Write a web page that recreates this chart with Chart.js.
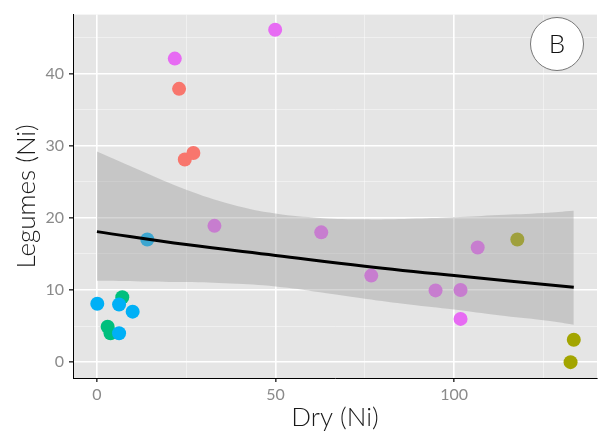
<!DOCTYPE html>
<html>
<head>
<meta charset="utf-8">
<script src="https://cdn.jsdelivr.net/npm/chart.js@4"></script>
<style>
  body { margin: 0; background: #fff; }
  canvas { display: block; }
</style>
</head>
<body>
<canvas id="scatter" width="605" height="437"></canvas>
<script>
// ── Data ──────────────────────────────────────────────────

const redX = [23.0, 24.6, 27.0];
const redY = [37.9, 28.1, 29.0];
const oliveX = [117.7, 133.5, 132.6];
const oliveY = [17.0, 3.1, 0.0];
const greenX = [7.1, 3.0, 3.8];
const greenY = [9.0, 4.9, 4.0];
const blueX = [0.1, 6.2, 10.0, 6.2, 14.1];
const blueY = [8.1, 8.0, 7.0, 4.0, 17.0];
const magentaX = [21.8, 49.9, 101.8, 32.9, 62.8, 76.8, 94.8, 101.8, 106.6];
const magentaY = [42.1, 46.1, 6.0, 18.9, 18.0, 12.0, 9.95, 10.0, 15.9];

// fitted line and its confidence band
const fitX = [0, 25, 50, 75, 100, 133.5];
const fitY = [18.1, 16.3, 14.8, 13.3, 12.0, 10.4];
const bandX = [0, 12.5, 25, 37.5, 50, 62.5, 75, 87.5, 100, 112.5, 125, 133.5];
const bandUpper = [29.2, 26.5, 23.9, 21.9, 20.6, 20.0, 19.8, 19.9, 20.1, 20.4, 20.7, 21.0];
const bandLower = [11.3, 11.2, 11.1, 10.9, 10.5, 9.7, 8.8, 8.0, 7.3, 6.5, 5.8, 5.2];

const xTicks = [0, 25, 50, 75, 100, 125];
const xLabels = [0, 50, 100];
const yTicks = [0, 5, 10, 15, 20, 25, 30, 35, 40, 45];
const yLabels = [0, 10, 20, 30, 40];

const panelLabel = 'B';

// ── Helpers ──────────────────────────────────────────────

const pts = (xs, ys) => xs.map((x, i) => ({ x: x, y: ys[i] }));

function pointSet(xs, ys, color, order) {
    return {
        type: 'scatter',
        data: pts(xs, ys),
        backgroundColor: color,
        borderWidth: 0,
        pointRadius: 7,
        pointHoverRadius: 7,
        order: order
    };
}

function gridColor(labels) {
    return ctx => labels.includes(ctx.tick && ctx.tick.value) ? '#ffffff' : 'rgba(255,255,255,0.55)';
}
function gridWidth(labels) {
    return ctx => labels.includes(ctx.tick && ctx.tick.value) ? 1.6 : 0.8;
}
function tickColor(labels) {
    return ctx => labels.includes(ctx.tick && ctx.tick.value) ? '#444' : 'rgba(0,0,0,0)';
}

// ── Plugins ───────────────────────────────────────────────

const panelBackground = {
    id: 'panelBackground',
    beforeDraw(chart) {
        const { ctx, chartArea: a } = chart;
        ctx.save();
        ctx.fillStyle = '#e5e5e5';
        ctx.fillRect(a.left, a.top, a.right - a.left, a.bottom - a.top);
        ctx.restore();
    }
};

const cornerLabel = {
    id: 'cornerLabel',
    afterDraw(chart) {
        const ctx = chart.ctx;
        ctx.save();
        ctx.beginPath();
        ctx.arc(557, 44, 26.5, 0, Math.PI * 2);
        ctx.fillStyle = '#ffffff';
        ctx.fill();
        ctx.lineWidth = 1;
        ctx.strokeStyle = '#777';
        ctx.stroke();
        ctx.fillStyle = '#111';
        ctx.font = '300 26px Lato, "DejaVu Sans", sans-serif';
        ctx.textAlign = 'center';
        ctx.textBaseline = 'middle';
        ctx.fillText(panelLabel, 557, 45);
        ctx.restore();
    }
};

// ── Chart ─────────────────────────────────────────────────

new Chart(document.getElementById('scatter'), {
    type: 'scatter',
    data: {
        datasets: [
            {
                type: 'line',
                data: pts(fitX, fitY),
                borderColor: '#000',
                borderWidth: 3,
                pointRadius: 0,
                tension: 0.4,
                fill: false,
                order: 0
            },
            {
                type: 'line',
                data: pts(bandX, bandUpper),
                borderWidth: 0,
                borderColor: 'rgba(0,0,0,0)',
                backgroundColor: 'rgba(153,153,153,0.4)',
                pointRadius: 0,
                tension: 0.4,
                fill: '+1',
                order: 1
            },
            {
                type: 'line',
                data: pts(bandX, bandLower),
                borderWidth: 0,
                borderColor: 'rgba(0,0,0,0)',
                pointRadius: 0,
                tension: 0.4,
                fill: false,
                order: 1
            },
            pointSet(greenX, greenY, '#00BF7D', 4),
            pointSet(blueX, blueY, '#00B0F6', 3),
            pointSet(redX, redY, '#F8766D', 3),
            pointSet(magentaX, magentaY, '#E76BF3', 3),
            pointSet(oliveX, oliveY, '#A3A500', 3)
        ]
    },
    options: {
        responsive: false,
        animation: false,
        events: [],
        layout: { padding: { top: 10, right: 8, left: 0, bottom: 0 } },
        plugins: {
            legend: { display: false },
            tooltip: { enabled: false }
        },
        scales: {
            x: {
                type: 'linear',
                min: -6.7,
                max: 140,
                afterBuildTicks: s => { s.ticks = xTicks.map(v => ({ value: v })); },
                afterFit: s => { s.height = 59; },
                border: { display: true, color: '#000', width: 1 },
                grid: {
                    color: gridColor(xLabels),
                    lineWidth: gridWidth(xLabels),
                    tickColor: tickColor(xLabels),
                    tickLength: 4
                },
                ticks: {
                    padding: 3,
                    maxRotation: 0,
                    autoSkip: false,
                    color: '#8a8a8a',
                    font: { family: 'Lato', size: 16 },
                    callback: v => xLabels.includes(v) ? String(v) : ''
                },
                title: {
                    display: true,
                    text: 'Dry (Ni)',
                    color: '#1a1a1a',
                    font: { family: 'Lato', weight: '300', size: 26 },
                    padding: { top: 0, bottom: 4 }
                }
            },
            y: {
                type: 'linear',
                min: -2.2,
                max: 48.2,
                afterBuildTicks: s => { s.ticks = yTicks.map(v => ({ value: v })); },
                afterFit: s => { s.width = 73; },
                border: { display: true, color: '#000', width: 1 },
                grid: {
                    color: gridColor(yLabels),
                    lineWidth: gridWidth(yLabels),
                    tickColor: tickColor(yLabels),
                    tickLength: 4
                },
                ticks: {
                    padding: 5,
                    autoSkip: false,
                    color: '#8a8a8a',
                    font: { family: 'Lato', size: 16 },
                    callback: v => yLabels.includes(v) ? String(v) : ''
                },
                title: {
                    display: true,
                    text: 'Legumes (Ni)',
                    color: '#1a1a1a',
                    font: { family: 'Lato', weight: '300', size: 26 },
                    padding: { top: 11, bottom: 0 }
                }
            }
        }
    },
    plugins: [panelBackground, cornerLabel]
});
</script>
</body>
</html>
